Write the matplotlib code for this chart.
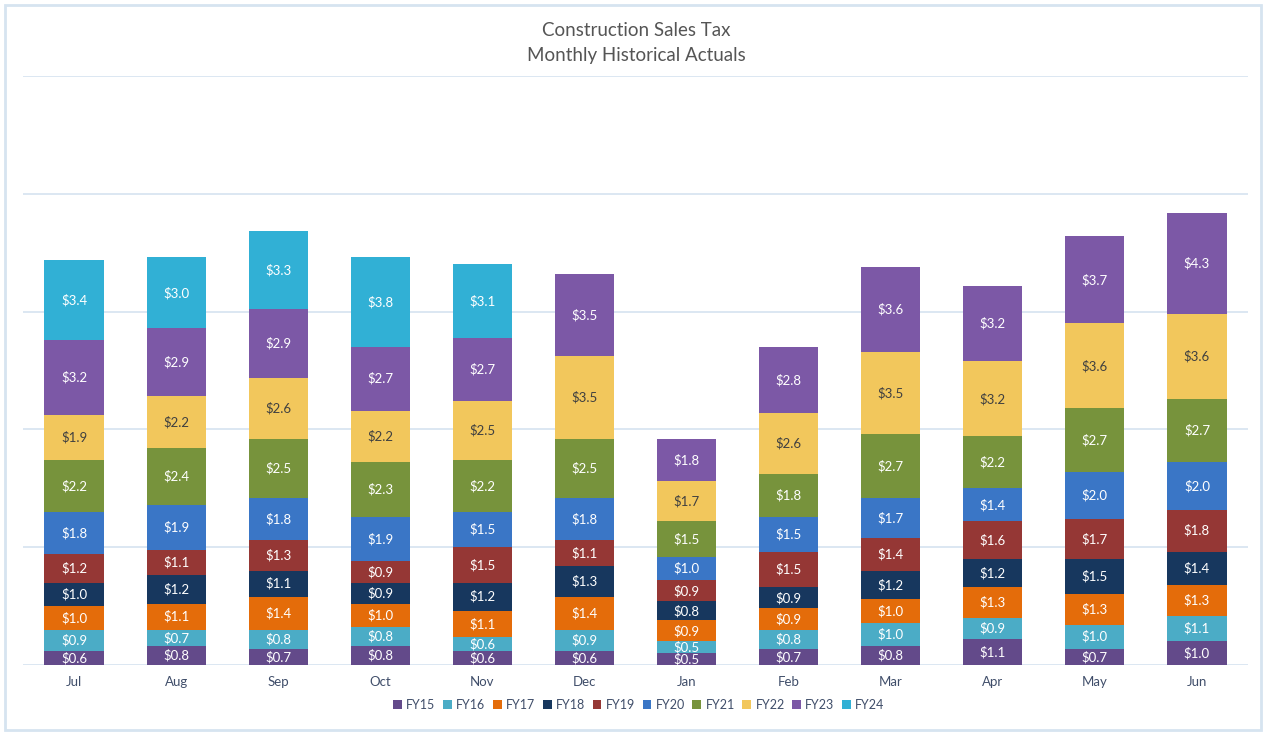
import matplotlib.pyplot as plt
import numpy as np
from matplotlib.patches import Rectangle

plt.rcParams['font.family'] = ['Lato', 'DejaVu Sans']

months = ["Jul", "Aug", "Sep", "Oct", "Nov", "Dec", "Jan", "Feb", "Mar", "Apr", "May", "Jun"]
years = ["FY15", "FY16", "FY17", "FY18", "FY19", "FY20", "FY21", "FY22", "FY23", "FY24"]

# values in $ millions, one list per fiscal year (Jul..Jun); None = no data yet
fy15 = [0.6, 0.8, 0.7, 0.8, 0.6, 0.6, 0.5, 0.7, 0.8, 1.1, 0.7, 1.0]
fy16 = [0.9, 0.7, 0.8, 0.8, 0.6, 0.9, 0.5, 0.8, 1.0, 0.9, 1.0, 1.1]
fy17 = [1.0, 1.1, 1.4, 1.0, 1.1, 1.4, 0.9, 0.9, 1.0, 1.3, 1.3, 1.3]
fy18 = [1.0, 1.2, 1.1, 0.9, 1.2, 1.3, 0.8, 0.9, 1.2, 1.2, 1.5, 1.4]
fy19 = [1.2, 1.1, 1.3, 0.9, 1.5, 1.1, 0.9, 1.5, 1.4, 1.6, 1.7, 1.8]
fy20 = [1.8, 1.9, 1.8, 1.9, 1.5, 1.8, 1.0, 1.5, 1.7, 1.4, 2.0, 2.0]
fy21 = [2.2, 2.4, 2.5, 2.3, 2.2, 2.5, 1.5, 1.8, 2.7, 2.2, 2.7, 2.7]
fy22 = [1.9, 2.2, 2.6, 2.2, 2.5, 3.5, 1.7, 2.6, 3.5, 3.2, 3.6, 3.6]
fy23 = [3.2, 2.9, 2.9, 2.7, 2.7, 3.5, 1.8, 2.8, 3.6, 3.2, 3.7, 4.3]
fy24 = [3.4, 3.0, 3.3, 3.8, 3.1, None, None, None, None, None, None, None]

series = [fy15, fy16, fy17, fy18, fy19, fy20, fy21, fy22, fy23, fy24]
colors = ["#634A8A", "#4BACC6", "#E46C0A", "#17375E", "#953735",
          "#3A76C6", "#77933C", "#F2C75C", "#7C58A6", "#31B0D5"]
label_colors = ["white"] * 7 + ["#404040"] + ["white"] * 2

fig = plt.figure(figsize=(12.65, 7.34), dpi=100)
ax = fig.add_axes([23 / 1265, 1 - 665 / 734, 1225 / 1265, 589 / 734])

x = np.arange(len(months))
bottom = np.zeros(len(months))
for name, vals, col, lc in zip(years, series, colors, label_colors):
    v = np.array([np.nan if a is None else a for a in vals], dtype=float)
    h = np.nan_to_num(v)
    ax.bar(x, h, 0.58, bottom=bottom, color=col, label=name, zorder=3)
    for xi, b, hv, raw in zip(x, bottom, h, v):
        if np.isnan(raw):
            continue
        ax.text(xi, b + hv / 2, f"${raw:.1f}", ha="center", va="center",
                color=lc, fontsize=9.5, zorder=4)
    bottom += h

ax.set_xlim(-0.5, len(months) - 0.5)
ax.set_ylim(0, 25)
ax.set_yticks([0, 5, 10, 15, 20, 25])
ax.set_yticklabels([])
ax.tick_params(axis="y", length=0)
ax.tick_params(axis="x", length=0, pad=8, labelsize=9.5, labelcolor="#404E6A")
ax.set_xticks(x)
ax.set_xticklabels(months)
ax.grid(axis="y", color="#D5E3F0", linewidth=1.2, zorder=0)
for s in ax.spines.values():
    s.set_visible(False)

fig.text(0.503, 1 - 30 / 734, "Construction Sales Tax", ha="center", va="center",
         fontsize=13.5, color="#555555")
fig.text(0.503, 1 - 55 / 734, "Monthly Historical Actuals", ha="center", va="center",
         fontsize=13.5, color="#555555")

fig.legend(loc="center", bbox_to_anchor=(0.505, 1 - 705 / 734), ncol=10,
           frameon=False, fontsize=9, handlelength=0.7, handleheight=0.7,
           handletextpad=0.35, columnspacing=0.6, labelcolor="#404E6A")

fig.patches.append(Rectangle((5 / 1265, 4 / 734), 1256 / 1265, 725 / 734,
                             transform=fig.transFigure, fill=False,
                             edgecolor="#D6E4F0", linewidth=2))

fig.savefig("out.png", dpi=100)
